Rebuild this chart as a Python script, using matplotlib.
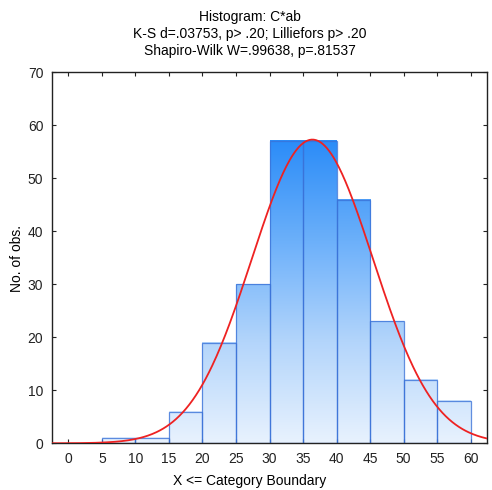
import numpy as np
import matplotlib
matplotlib.use("Agg")
import matplotlib.pyplot as plt
from matplotlib.colors import LinearSegmentedColormap

plt.rcParams['font.family'] = ['Liberation Sans', 'DejaVu Sans']

bin_edges = [5, 10, 15, 20, 25, 30, 35, 40, 45, 50, 55, 60]
counts = [1, 1, 6, 19, 30, 57, 57, 46, 23, 12, 8]
fit_mean = 36.4
fit_sd = 9.05
x_ticks = [0, 5, 10, 15, 20, 25, 30, 35, 40, 45, 50, 55, 60]
y_ticks = [0, 10, 20, 30, 40, 50, 60, 70]
title_lines = ["Histogram: C*ab",
               "K-S d=.03753, p> .20; Lilliefors p> .20",
               "Shapiro-Wilk W=.99638, p=.81537"]

fig = plt.figure(figsize=(4.92, 4.90), dpi=100)
ax = fig.add_axes([51.7/492, 1-443.3/490, (487.3-51.7)/492, (443.3-72.3)/490])

cmap = LinearSegmentedColormap.from_list("g", ["#e8f2fe", "#b3d5fb", "#6cb0fa", "#2b8cf8"])
ymax_grad = max(counts)
grad = np.linspace(0, 1, 256).reshape(-1, 1)
total = sum(counts)
for i, c in enumerate(counts):
    x0, x1 = bin_edges[i], bin_edges[i+1]
    ax.imshow(grad[: max(2, int(256 * c / ymax_grad))], cmap=cmap, vmin=0, vmax=1,
              extent=(x0, x1, 0, c), origin='lower', aspect='auto', zorder=1,
              interpolation='bilinear')
    ax.add_patch(plt.Rectangle((x0, 0), x1 - x0, c, fill=False,
                               edgecolor='#3a72d8', alpha=0.8, linewidth=0.9, zorder=2))

xs = np.linspace(-2.5, 62.5, 400)
bw = bin_edges[1] - bin_edges[0]
ys = total * bw / (fit_sd * np.sqrt(2 * np.pi)) * np.exp(-0.5 * ((xs - fit_mean) / fit_sd) ** 2)
ax.plot(xs, ys, color='#ee2222', linewidth=1.3, zorder=3)

ax.set_xlim(-2.5, 62.5)
ax.set_ylim(0, 70)
ax.set_xticks(x_ticks)
ax.set_yticks(y_ticks)
ax.tick_params(direction='in', top=True, right=True, labelsize=10, length=3,
               width=0.8, colors='#222222', pad=6)
for s in ax.spines.values():
    s.set_linewidth(1.0)
    s.set_color('#222222')

for k, t in enumerate(title_lines):
    fig.text(250/492, 1 - (17 + 17*k)/490, t, ha='center', va='center', fontsize=10)
fig.text(250/492, 1 - 481/490, "X <= Category Boundary", ha='center', va='center', fontsize=10)
fig.text(17/492, 1 - 258/490, "No. of obs.", ha='center', va='center', rotation=90, fontsize=10)

fig.savefig("out.png", dpi=100)
